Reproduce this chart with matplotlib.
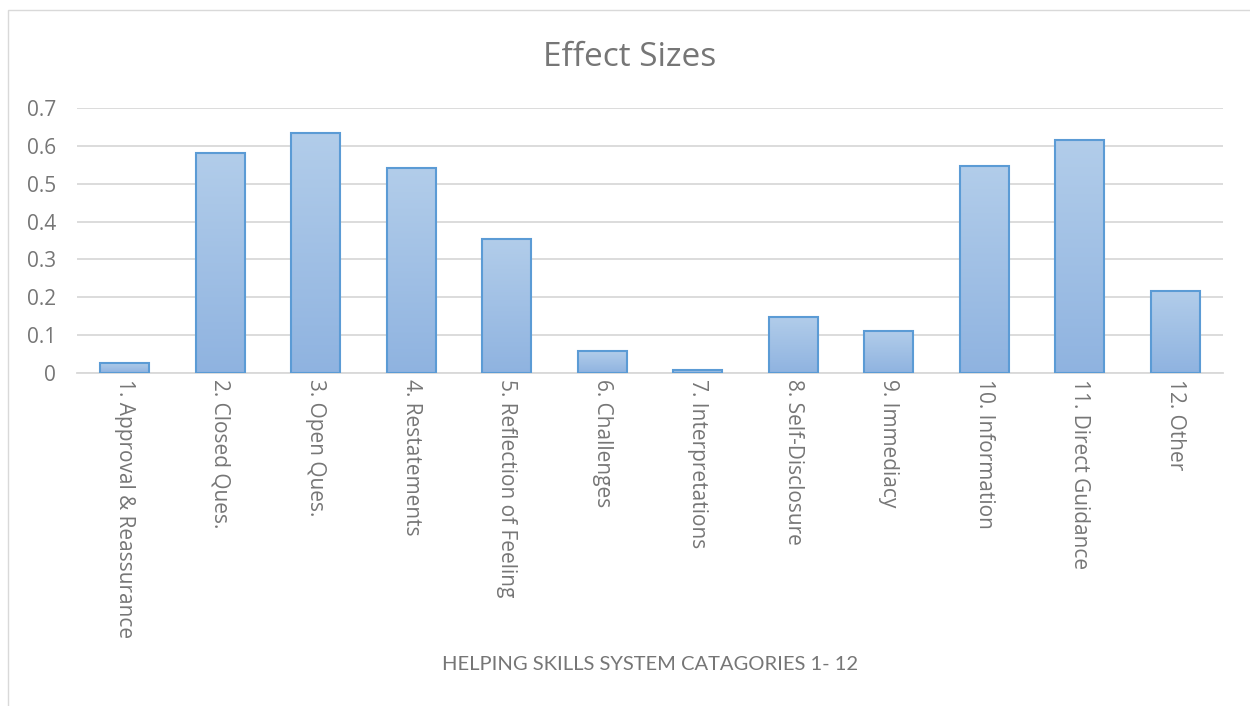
import matplotlib
matplotlib.use('Agg')
import matplotlib.pyplot as plt
from matplotlib import patches
import numpy as np

categories = ['1. Approval & Reassurance', '2. Closed Ques.', '3. Open Ques.',
              '4. Restatements', '5. Reflection of Feeling', '6. Challenges',
              '7. Interpretations', '8. Self-Disclosure', '9. Immediacy',
              '10. Information', '11. Direct Guidance', '12. Other']
effect_sizes = [0.027, 0.581, 0.634, 0.541, 0.354, 0.058,
                0.008, 0.148, 0.111, 0.547, 0.615, 0.217]
y_ticks = [0, 0.1, 0.2, 0.3, 0.4, 0.5, 0.6, 0.7]

plt.rcParams['font.family'] = ['Open Sans', 'DejaVu Sans']
grey = '#767676'

fig = plt.figure(figsize=(12.5, 7.06), dpi=100)
ax = fig.add_axes([77 / 1250, 1 - 373 / 706, 1146 / 1250, 265 / 706])

x = np.arange(len(categories))
bars = ax.bar(x, effect_sizes, width=0.51, color='none',
              edgecolor='#5b9bd5', linewidth=1.5, zorder=3)

# vertical gradient inside each bar
grad = np.linspace(0, 1, 256).reshape(-1, 1)
cmap = matplotlib.colors.LinearSegmentedColormap.from_list('g', ['#8fb3e0', '#b2cdea'])
for b in bars:
    bx, by = b.get_x(), b.get_y()
    w, h = b.get_width(), b.get_height()
    im = ax.imshow(grad, cmap=cmap, origin='lower', aspect='auto',
                   extent=(bx, bx + w, by, by + h), zorder=2)
    im.set_clip_path(b)

ax.set_xlim(-0.5, len(categories) - 0.5)
ax.set_ylim(0, 0.7)
ax.set_yticks(y_ticks)
ax.set_yticklabels(['0' if t == 0 else f'{t:.1f}' for t in y_ticks])
ax.set_xticks(x)
ax.set_xticklabels(categories, rotation=270, va='top', ha='center')
ax.tick_params(length=0, labelsize=15, colors=grey, pad=4)
ax.tick_params(axis='y', pad=15)

for s in ['top', 'right', 'left']:
    ax.spines[s].set_visible(False)
ax.spines['bottom'].set_color('#d9d9d9')
ax.spines['bottom'].set_linewidth(1.3)
ax.yaxis.grid(True, color='#d9d9d9', linewidth=1.3, zorder=0)
ax.set_axisbelow(True)

fig.text(630 / 1250, 1 - 57 / 706, 'Effect Sizes', ha='center', va='center',
         fontsize=24, color=grey)
fig.text(650 / 1250, 1 - 664 / 706, 'HELPING SKILLS SYSTEM CATAGORIES 1- 12',
         ha='center', va='center', fontsize=14.5, color=grey, family='Lato')

# chart area border
fig.patches.append(patches.Rectangle((8 / 1250, -0.1), 1.2, 1 - 10 / 706 + 0.1,
                                     transform=fig.transFigure, fill=False,
                                     edgecolor='#d9d9d9', linewidth=1))

plt.savefig('out.png', dpi=100)
